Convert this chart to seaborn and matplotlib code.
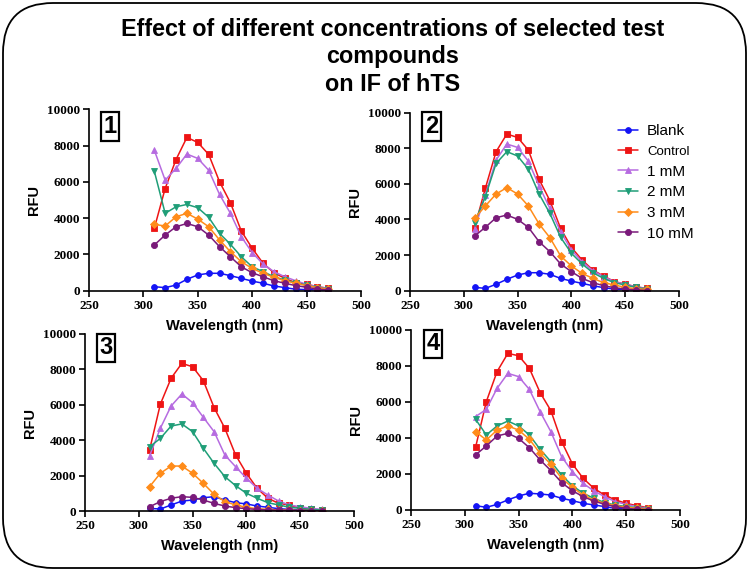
import matplotlib
matplotlib.use("Agg")
import matplotlib.pyplot as plt
import seaborn as sns
from matplotlib.patches import FancyBboxPatch
from matplotlib.transforms import IdentityTransform

# ---------------- data ----------------
wavelength = [310, 320, 330, 340, 350, 360, 370, 380, 390, 400, 410, 420, 430, 440, 450, 460, 470]
series_names = ["Blank", "Control", "1 mM", "2 mM", "3 mM", "10 mM"]
x_ticks = [250, 300, 350, 400, 450, 500]
y_ticks = [0, 2000, 4000, 6000, 8000, 10000]
panel_labels = ["1", "2", "3", "4"]

p1_blank = [220, 170, 310, 630, 870, 960, 960, 830, 680, 530, 410, 260, 170, 80, 60, 40, 40]
p1_control = [3440, 5640, 7240, 8460, 8180, 7520, 6010, 4850, 3290, 2340, 1510, 990, 680, 440, 350, 220, 130]
p1_1mM = [7760, 6100, 6750, 7540, 7300, 6650, 5310, 4270, 2980, 2100, 1470, 1050, 770, 550, 350, 220, 130]
p1_2mM = [6600, 4270, 4630, 4760, 4580, 4050, 3160, 2560, 1870, 1320, 1050, 770, 590, 440, 300, 170, 100]
p1_3mM = [3660, 3570, 4080, 4270, 3950, 3530, 2800, 2150, 1600, 1230, 960, 740, 550, 410, 280, 170, 80]
p1_10mM = [2520, 3070, 3530, 3710, 3530, 3070, 2430, 1870, 1320, 990, 770, 550, 410, 280, 190, 80, 40]

p2_blank = [190, 130, 360, 640, 880, 1010, 1010, 920, 690, 540, 410, 280, 170, 90, 70, 40, 10]
p2_control = [3540, 5750, 7810, 8800, 8610, 7900, 6250, 5060, 3500, 2430, 1720, 1160, 820, 510, 370, 220, 130]
p2_1mM = [3450, 5370, 7340, 8240, 8050, 7280, 5880, 4630, 3310, 2280, 1630, 1120, 790, 510, 360, 220, 110]
p2_2mM = [3820, 5280, 7150, 7810, 7570, 6820, 5430, 4340, 3000, 2100, 1500, 1010, 690, 450, 320, 190, 90]
p2_3mM = [4060, 4760, 5430, 5790, 5430, 4760, 3750, 2980, 1950, 1390, 970, 690, 450, 320, 190, 110, 70]
p2_10mM = [3070, 3560, 4100, 4250, 4010, 3560, 2750, 2190, 1500, 1070, 690, 450, 280, 170, 90, 40, 10]

p3_blank = [150, 110, 340, 560, 620, 750, 810, 620, 470, 400, 280, 210, 130, 90, 60, 40, 20]
p3_control = [3450, 6030, 7500, 8340, 8150, 7360, 5840, 4670, 3160, 2130, 1280, 720, 430, 340, 150, 90, 60]
p3_1mM = [3110, 4670, 5930, 6610, 6120, 5290, 4480, 3160, 2500, 1850, 1280, 900, 560, 340, 240, 150, 90]
p3_2mM = [3630, 4100, 4800, 4920, 4480, 3540, 2690, 1940, 1430, 1000, 720, 470, 340, 210, 150, 90, 60]
p3_3mM = [1370, 2130, 2540, 2540, 2130, 1560, 940, 530, 340, 210, 130, 90, 60, 60, 20, 20, 10]
p3_10mM = [240, 530, 720, 810, 770, 620, 430, 280, 190, 130, 90, 60, 40, 40, 20, 20, 10]

p4_blank = [240, 150, 310, 560, 780, 930, 890, 830, 650, 520, 370, 280, 190, 90, 70, 40, 20]
p4_control = [3480, 6020, 7690, 8700, 8570, 7870, 6520, 5520, 3800, 2560, 1760, 1200, 830, 560, 370, 240, 130]
p4_1mM = [5190, 5590, 6760, 7590, 7410, 6700, 5460, 4350, 2960, 2130, 1480, 1060, 740, 460, 310, 190, 90]
p4_2mM = [5040, 4170, 4670, 4940, 4670, 4170, 3370, 2690, 1940, 1350, 930, 650, 410, 280, 190, 130, 60]
p4_3mM = [4350, 3890, 4440, 4670, 4440, 3930, 3150, 2540, 1760, 1260, 830, 560, 370, 240, 150, 90, 40]
p4_10mM = [3060, 3560, 4110, 4260, 3980, 3460, 2780, 2190, 1520, 1070, 740, 500, 310, 190, 90, 40, 10]

panels = [
    [p1_blank, p1_control, p1_1mM, p1_2mM, p1_3mM, p1_10mM],
    [p2_blank, p2_control, p2_1mM, p2_2mM, p2_3mM, p2_10mM],
    [p3_blank, p3_control, p3_1mM, p3_2mM, p3_3mM, p3_10mM],
    [p4_blank, p4_control, p4_1mM, p4_2mM, p4_3mM, p4_10mM],
]

colors = ["#1414f5", "#ee1414", "#b66be0", "#1f9e78", "#ff8c1a", "#7a1a7a"]
markers = ["o", "s", "^", "v", "D", "o"]
msizes = [4.2, 4.4, 4.8, 4.8, 4.2, 4.4]

# ---------------- style ----------------
sns.set_style("ticks")
plt.rcParams["font.family"] = ["Liberation Sans", "DejaVu Sans"]
plt.rcParams["text.color"] = "black"
plt.rcParams["axes.labelcolor"] = "black"
plt.rcParams["xtick.color"] = "black"
plt.rcParams["ytick.color"] = "black"

W, H = 750, 570
fig = plt.figure(figsize=(W / 100, H / 100), dpi=100)

# axes rectangles in pixels: left, right, top(10000), bottom(0)
rects_px = [
    (89, 361, 109.5, 290.7),
    (410, 679, 112.7, 290.7),
    (85, 354, 334, 511),
    (411, 680, 330, 510),
]

label_px = [(110, 126.5), (431.7, 126.5), (106, 348), (433, 344)]

tick_font = dict(family=["Liberation Serif", "DejaVu Serif"], weight="bold", size=9.5)

axes = []
for i, (l, r, t, b) in enumerate(rects_px):
    ax = fig.add_axes([l / W, 1 - b / H, (r - l) / W, (b - t) / H])
    axes.append(ax)
    for j, name in enumerate(series_names):
        sns.lineplot(x=wavelength, y=panels[i][j], ax=ax, color=colors[j],
                     marker=markers[j], markersize=msizes[j],
                     markeredgecolor=colors[j], markeredgewidth=0.6,
                     linewidth=1.1, label=name)
    ax.set_xlim(250, 500)
    ax.set_ylim(0, 10000)
    ax.set_xticks(x_ticks)
    ax.set_yticks(y_ticks)
    ax.set_xticklabels([str(v) for v in x_ticks], fontdict=tick_font)
    ax.set_yticklabels([str(v) for v in y_ticks], fontdict=tick_font)
    ax.margins(0)
    for s in ["top", "right"]:
        ax.spines[s].set_visible(False)
    for s in ["left", "bottom"]:
        ax.spines[s].set_linewidth(1.2)
        ax.spines[s].set_color("black")
    ax.tick_params(axis="both", direction="out", length=4, width=1.2,
                   colors="black", pad=2.5)
    ax.set_xlabel("Wavelength (nm)", fontsize=10.5, fontweight="bold", color="black")
    ax.set_ylabel("RFU", fontsize=10.5, fontweight="bold", color="black")
    hpx = b - t
    wpx = r - l
    ax.xaxis.set_label_coords(0.5, -35 / hpx)
    ax.xaxis.label.set_va("center")
    ax.yaxis.set_label_coords(-55 / wpx, 0.5)
    ax.yaxis.label.set_va("center")
    ax.set_facecolor("none")
    lx, ly = label_px[i]
    ax.text((lx - l) / wpx, (b - ly) / hpx, panel_labels[i], transform=ax.transAxes,
            ha="center", va="center", fontsize=17, fontweight="bold", color="black",
            bbox=dict(boxstyle="square,pad=0.12", facecolor="white",
                      edgecolor="black", linewidth=1.6))

handles, labels = axes[1].get_legend_handles_labels()
for ax in axes:
    lg = ax.get_legend()
    if lg is not None:
        lg.remove()

leg = fig.legend(handles, labels, loc="upper left",
                 bbox_to_anchor=(618 / W, 1 - 124 / H), frameon=False,
                 fontsize=11, handlelength=1.3, handletextpad=0.6,
                 labelspacing=0.43, borderpad=0, borderaxespad=0)
for txt in leg.get_texts():
    txt.set_color("black")
    if txt.get_text() == "Control":
        txt.set_fontsize(9.5)

fig.text(393 / W, 1 - 57 / H,
         "Effect of different concentrations of selected test\ncompounds\non IF of hTS",
         ha="center", va="center", fontsize=16.8, fontweight="bold", color="black",
         linespacing=1.24)

frame = FancyBboxPatch((3, 2), 743, 565, boxstyle="round,pad=0,rounding_size=50",
                       transform=IdentityTransform(), facecolor="none",
                       edgecolor="black", linewidth=1.3)
fig.patches.append(frame)

fig.savefig("out.png", dpi=100)
